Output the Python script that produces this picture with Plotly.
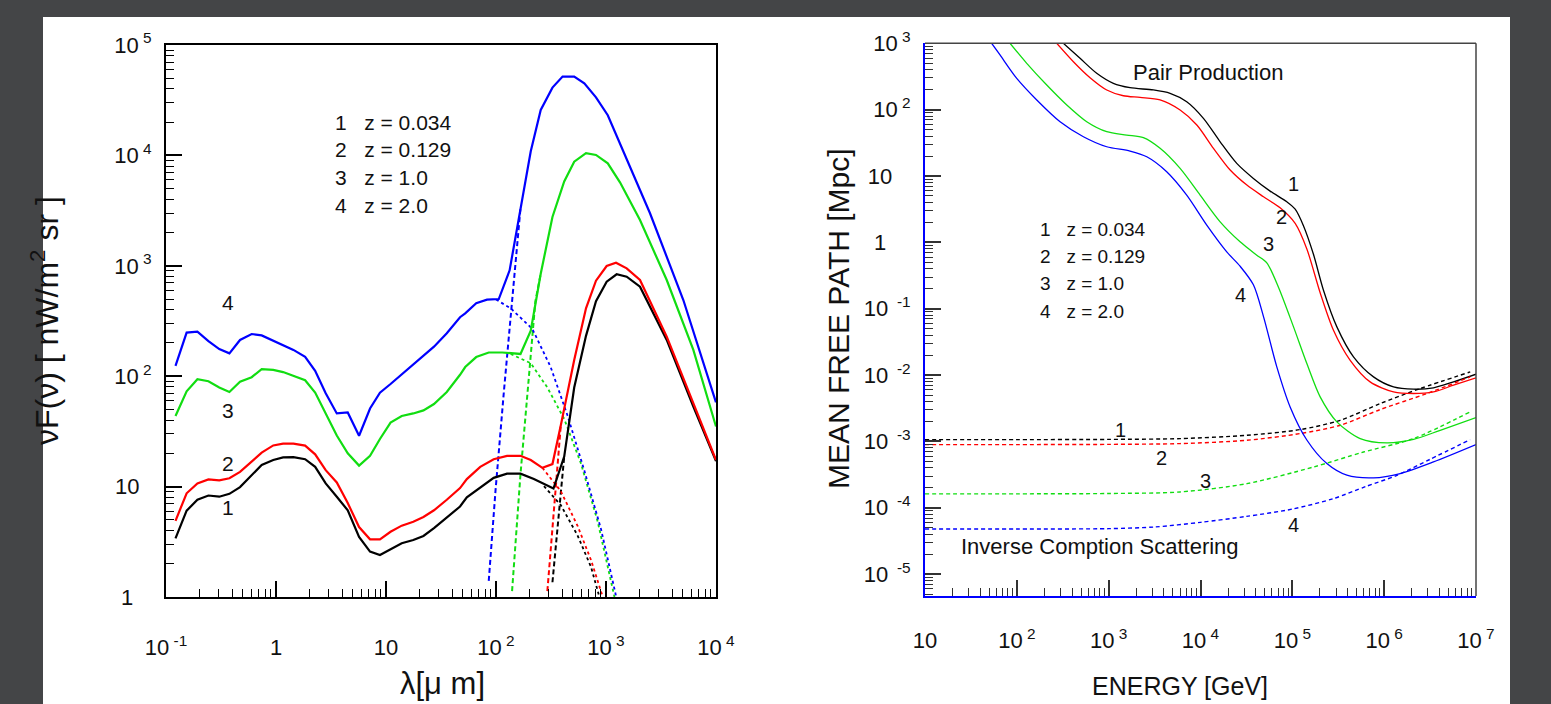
import plotly.graph_objects as go

# ---------------- left panel: EBL spectra (wavelength in micron, nuFnu in nW m^-2 sr^-1)
LAM_IR = [0.122, 0.154, 0.193, 0.243, 0.305, 0.377, 0.471, 0.601, 0.741, 0.944, 1.16, 1.44,
          1.84, 2.27, 2.83, 3.57, 4.49, 5.69, 7.16, 8.81, 11.0, 13.9, 17.7, 21.9, 27.3, 35.7, 47.1]

# total spectrum, z = 0.034
ir_z1 = [3.4, 6.05, 7.6, 8.3, 8.1, 8.6, 9.9, 12.7, 15.7, 17.4, 18.4, 18.5, 17.7, 15.1, 10.7,
         8.1, 6.1, 3.5, 2.58, 2.4, 2.7, 3.07, 3.28, 3.57, 4.2, 5.2, 6.6]
lam_far_z1 = [54.3, 71.9, 95.3, 126, 167, 221, 333, 417, 514, 658, 811, 1014, 1250, 1542,
              2037, 3565, 6223, 10000]
far_z1 = [8.0, 9.8, 12.0, 13.1, 13.1, 11.7, 9.6, 18.7, 79, 232, 477, 718, 838, 797, 647,
          213, 53, 17]

# total spectrum, z = 0.129
ir_z2 = [4.9, 8.7, 10.7, 11.6, 11.4, 11.9, 13.6, 16.8, 20.3, 23.6, 24.5, 24.5, 23.5, 19.6,
         14.1, 10.9, 7.1, 4.3, 3.33, 3.33, 3.9, 4.43, 4.8, 5.3, 6.1, 7.6, 9.7]
lam_far_z2 = [54.3, 71.9, 95.3, 126, 167, 207, 264, 326, 388, 514, 658, 811, 1014, 1233,
              1542, 2037, 3565, 6223, 10000]
far_z2 = [11.7, 15.1, 17.7, 19.0, 19.0, 17.4, 14.8, 16.0, 35.7, 140, 412, 733, 995, 1067,
          949, 743, 228, 57, 17.4]

# total spectrum, z = 1.0
ir_z3 = [43.6, 73, 94, 90, 79, 72, 89, 98, 116, 114, 109, 100, 92, 71, 46, 29, 20, 15.5,
         19, 27, 38, 43.6, 46, 49, 56, 72, 103]
lam_far_z3 = [52.5, 66.1, 85.9, 114, 167, 207, 255, 326, 417, 514, 658, 811, 1038, 1340,
              2037, 3565, 6223, 10000]
far_z3 = [121, 149, 164, 164, 159, 258, 847, 2770, 5800, 8770, 10500, 10100, 8470, 5700,
          2600, 743, 173, 35]

# total spectrum, z = 2.0
ir_z4 = [124, 248, 253, 208, 176, 161, 213, 241, 234, 210, 192, 173, 150, 112, 70, 46, 47,
         28.9, 51, 71, 85, 104, 126, 152, 185, 245, 342]
lam_far_z4 = [52.5, 66.1, 82.8, 106, 133, 167, 207, 255, 326, 403, 514, 635, 811, 1038,
              1294, 2512, 5047, 10000]
far_z4 = [371, 459, 493, 500, 910, 3320, 10900, 25800, 41100, 51800, 51800, 44900, 33600,
          23100, 13800, 2990, 490, 58]

# dust component continued past the junction (dotted)
dot_lam_z1 = [273, 388, 552, 731, 871]
dot_val_z1 = [10.1, 6.8, 3.6, 1.87, 1.0]
dot_lam_z2 = [264, 388, 552, 731, 935]
dot_val_z2 = [14.8, 9.1, 4.4, 2.16, 1.0]
dot_lam_z3 = [136, 207, 293, 417, 592, 841, 1194]
dot_val_z3 = [159, 131, 79, 41, 16.2, 4.8, 1.0]
dot_lam_z4 = [100, 136, 214, 314, 447, 635, 902, 1239]
dot_val_z4 = [495, 412, 268, 121, 44, 14, 4.1, 1.0]

# rising background component (dashed)
dash_lam_z1 = [326, 375, 417]
dash_val_z1 = [1.36, 6.4, 18.7]
dash_lam_z2 = [293, 337, 388]
dash_val_z2 = [1.13, 6.4, 35.7]
dash_lam_z3 = [140, 167, 199, 228, 255]
dash_val_z3 = [1.13, 13, 98, 477, 847]
dash_lam_z4 = [85.9, 98.9, 118, 140, 167]
dash_val_z4 = [1.4, 9.1, 73, 477, 3320]

# ---------------- right panel: mean free path (energy in GeV, path in Mpc)
pp_e_z1 = [321, 488, 741, 1125, 1710, 3069, 4667, 7079, 10765, 16370, 24830, 37670, 57280,
           87100, 107400, 132100, 169800, 218300, 305500, 463400, 765600, 1.265e6, 2.089e6,
           3.443e6, 5.689e6, 1e7]
pp_l_z1 = [1000, 594, 353, 249, 214, 198, 176, 131.5, 74.0, 32.8, 15.5, 9.20, 5.92, 4.08,
           3.16, 1.78, 0.66, 0.19, 0.0532, 0.0188, 0.00938, 0.00662, 0.00612, 0.00641,
           0.00789, 0.0103]
pp_e_z2 = [272, 413, 627, 953, 1445, 2198, 3631, 5998, 9120, 13840, 21040, 31990, 48530,
           73620, 107400, 143900, 200900, 280500, 426600, 703100, 1.265e6, 2.089e6, 3.443e6,
           5.689e6, 1e7]
pp_l_z2 = [1000, 528, 303, 198, 162, 153, 140, 98.6, 58.6, 26.1, 12.3, 7.29, 4.86, 3.32, 1.93,
           0.794, 0.174, 0.0474, 0.0167, 0.00789, 0.00557, 0.00527, 0.00557, 0.00703, 0.00906]
pp_e_z3 = [84.3, 128.2, 211.8, 349.9, 576.8, 952.6, 1574, 2388, 3631, 5998, 9908, 16370,
           26980, 41020, 52720, 70790, 102800, 143900, 200900, 305500, 548300, 1.069e6,
           2.089e6, 4.074e6, 1e7]
pp_l_z3 = [1000, 499, 235, 117.5, 65.8, 46.5, 41.4, 37.8, 26.1, 13.0, 5.15, 2.04, 1.02, 0.641,
           0.490, 0.209, 0.0537, 0.0149, 0.00469, 0.00197, 0.00110, 0.000948, 0.00107,
           0.00147, 0.00229]
pp_e_z4 = [53.2, 65.6, 99.8, 164.8, 295.8, 530.9, 952.6, 1710, 2600, 4285, 7079, 11700, 19320,
           26980, 37670, 48530, 67760, 94620, 143900, 237700, 392600, 765600, 1.496e6,
           3.443e6, 1e7]
pp_l_z4 = [1000, 667, 296, 140, 65.8, 39.1, 27.6, 23.8, 19.5, 11.6, 5.15, 1.82, 0.719, 0.437,
           0.229, 0.0759, 0.0133, 0.00331, 0.00105, 0.000463, 0.000309, 0.000282, 0.000328,
           0.000491, 0.000897]

ics_e_z1 = [10, 100, 1000, 6000, 32000, 121600, 331900, 905700, 2.466e6, 8.65e6]
ics_l_z1 = [0.001064, 0.001064, 0.001072, 0.001102, 0.001236, 0.001507, 0.002080, 0.003715,
            0.006252, 0.01114]
ics_e_z2 = [10, 100, 1000, 6000, 32000, 121600, 331900, 905700, 2.917e6, 8.65e6]
ics_l_z2 = [0.000895, 0.000895, 0.000902, 0.000927, 0.001040, 0.001312, 0.001750, 0.00302,
            0.00526, 0.00938]
ics_e_z3 = [10, 100, 1000, 6000, 32000, 169800, 595700, 2.089e6, 9.016e6]
ics_l_z3 = [0.000162, 0.000162, 0.000164, 0.000173, 0.000231, 0.000411, 0.000692, 0.001102,
            0.002877]
ics_e_z4 = [10, 100, 1000, 3162, 10000, 31620, 100000, 280500, 631000, 1.377e6, 3.162e6,
            8.65e6]
ics_l_z4 = [4.79e-5, 4.79e-5, 4.84e-5, 5.13e-5, 6.03e-5, 7.41e-5, 9.55e-5, 1.374e-4,
            2.09e-4, 3.08e-4, 5.37e-4, 1.064e-3]

REDSHIFT_LABELS = ["1\u00a0\u00a0\u00a0z = 0.034", "2\u00a0\u00a0\u00a0z = 0.129",
                   "3\u00a0\u00a0\u00a0z = 1.0", "4\u00a0\u00a0\u00a0z = 2.0"]
COLORS = ["#000000", "#ff0000", "#11dd11", "#0000ff"]

LEFT_YTICKS = [1, 10, 100, 1e3, 1e4, 1e5]
LEFT_YTEXT = ["1\u00a0\u00a0\u00a0", "10\u00a0\u00a0", "10<sup> 2</sup>", "10<sup> 3</sup>",
              "10<sup> 4</sup>", "10<sup> 5</sup>"]
LEFT_XTICKS = [0.1, 1, 10, 100, 1e3, 1e4]
LEFT_XTEXT = ["10<sup> -1</sup>", "1", "10", "10<sup> 2</sup>", "10<sup> 3</sup>", "10<sup> 4</sup>"]
RIGHT_XTICKS = [10, 100, 1e3, 1e4, 1e5, 1e6, 1e7]
RIGHT_XTEXT = ["10", "10<sup> 2</sup>", "10<sup> 3</sup>", "10<sup> 4</sup>", "10<sup> 5</sup>",
               "10<sup> 6</sup>", "10<sup> 7</sup>"]
RIGHT_YTICKS = [1e-5, 1e-4, 1e-3, 1e-2, 1e-1, 1, 10, 100, 1e3]
RIGHT_YTEXT = ["10<sup>  -5</sup>", "10<sup>  -4</sup>", "10<sup>  -3</sup>", "10<sup>  -2</sup>",
               "10<sup>  -1</sup>", "1\u00a0\u00a0\u00a0\u00a0", "10\u00a0\u00a0\u00a0",
               "10<sup> 2</sup>", "10<sup> 3</sup>"]

W, H = 1551, 704
FONT = "Liberation Sans, Arial, Helvetica, sans-serif"


def px(x):
    return x / W


def py(y):
    return 1 - y / H


fig = go.Figure()

ir_sets = [(ir_z1, lam_far_z1, far_z1), (ir_z2, lam_far_z2, far_z2),
           (ir_z3, lam_far_z3, far_z3), (ir_z4, lam_far_z4, far_z4)]
dot_sets = [(dot_lam_z1, dot_val_z1), (dot_lam_z2, dot_val_z2),
            (dot_lam_z3, dot_val_z3), (dot_lam_z4, dot_val_z4)]
dash_sets = [(dash_lam_z1, dash_val_z1), (dash_lam_z2, dash_val_z2),
             (dash_lam_z3, dash_val_z3), (dash_lam_z4, dash_val_z4)]

for i in range(4):
    c = COLORS[i]
    lx, ly = dot_sets[i]
    fig.add_trace(go.Scatter(x=lx, y=ly, mode="lines", xaxis="x", yaxis="y",
                             line=dict(color=c, width=1.8, dash="dot")))
    lx, ly = dash_sets[i]
    fig.add_trace(go.Scatter(x=lx, y=ly, mode="lines", xaxis="x", yaxis="y",
                             line=dict(color=c, width=2, dash="5px,3px")))
for i in range(4):
    ir, lf, vf = ir_sets[i]
    fig.add_trace(go.Scatter(x=LAM_IR + lf, y=ir + vf, mode="lines", xaxis="x", yaxis="y",
                             line=dict(color=COLORS[i], width=2.2)))

pp_sets = [(pp_e_z1, pp_l_z1), (pp_e_z2, pp_l_z2), (pp_e_z3, pp_l_z3), (pp_e_z4, pp_l_z4)]
ics_sets = [(ics_e_z1, ics_l_z1), (ics_e_z2, ics_l_z2), (ics_e_z3, ics_l_z3),
            (ics_e_z4, ics_l_z4)]
for i in range(4):
    e, l = ics_sets[i]
    fig.add_trace(go.Scatter(x=e, y=l, mode="lines", xaxis="x2", yaxis="y2",
                             line=dict(color=COLORS[i], width=1.4, dash="4px,3px",
                                       shape="spline", smoothing=0.8)))
    e, l = pp_sets[i]
    fig.add_trace(go.Scatter(x=e, y=l, mode="lines", xaxis="x2", yaxis="y2",
                             line=dict(color=COLORS[i], width=1.3, shape="spline",
                                       smoothing=0.8)))


def minor_vals(lo, hi):
    vals = []
    for d in range(lo, hi):
        for k in range(2, 10):
            vals.append(k * 10.0 ** d)
    return vals


def log_axis(rng, dom, anchor, tickvals, ticktext, minors, linecolor, tickcolor,
             mirror, standoff):
    return dict(type="log", range=rng, domain=dom, anchor=anchor, automargin=False,
                showline=True, linecolor=linecolor, linewidth=2, mirror=mirror,
                ticks="inside", ticklen=16, tickwidth=1.5, tickcolor=tickcolor,
                tickmode="array", tickvals=tickvals, ticktext=ticktext,
                tickfont=dict(family=FONT, size=22, color="#111"),
                ticklabelstandoff=standoff,
                showgrid=False, zeroline=False,
                minor=dict(tickmode="array", tickvals=minors, ticks="inside",
                           ticklen=8, tickwidth=1.3, tickcolor=tickcolor, showgrid=False))


fig.update_layout(
    width=W, height=H, autosize=False, margin=dict(l=0, r=0, t=0, b=0, pad=0, autoexpand=False),
    paper_bgcolor="#444547", plot_bgcolor="white", showlegend=False,
    xaxis=log_axis([-1, 4], [px(166), px(716)], "y", LEFT_XTICKS, LEFT_XTEXT,
                   minor_vals(-1, 4), "#000", "#000", True, 30),
    yaxis=log_axis([0, 5], [py(597), py(45)], "x", LEFT_YTICKS, LEFT_YTEXT,
                   minor_vals(0, 5), "#000", "#000", True, 8),
    xaxis2=log_axis([1, 7], [px(925), px(1476)], "y2", RIGHT_XTICKS, RIGHT_XTEXT,
                    minor_vals(1, 7), "#0000ff", "#333", False, 24),
    yaxis2=log_axis([-5.33, 3], [py(596), py(43.3)], "x2", RIGHT_YTICKS, RIGHT_YTEXT,
                    minor_vals(-6, 3), "#0000ff", "#333", False, 8),
)

shapes = [
    dict(type="rect", xref="paper", yref="paper", x0=px(43), x1=px(1510), y0=0, y1=py(17),
         fillcolor="white", line=dict(width=0), layer="below"),
    dict(type="line", xref="x2 domain", yref="y2 domain", x0=0, x1=1, y0=1, y1=1,
         line=dict(color="#444", width=1.5)),
    dict(type="line", xref="x2 domain", yref="y2 domain", x0=1, x1=1, y0=0, y1=1,
         line=dict(color="#444", width=1.5)),
]
fig.update_layout(shapes=shapes)

ann = []


def text(x, y, s, size, anchor="center", angle=0):
    ann.append(dict(xref="paper", yref="paper", x=px(x), y=py(y), text=s, showarrow=False,
                    xanchor=anchor, yanchor="middle", textangle=angle,
                    font=dict(family=FONT, size=size, color="#111")))


# left panel text
for k, s in enumerate(REDSHIFT_LABELS):
    text(333, 122 + 27.7 * k, s, 21, "left")
for s, (x, y) in zip(["4", "3", "2", "1"], [(228, 302), (228, 410), (228, 463), (228, 507)]):
    text(x, y, s, 21)
text(45, 321, "\u03bdF(\u03bd) [ nW/m<sup>2</sup> sr ]", 32, angle=-90)
text(442, 683, "\u03bb[\u03bc m]", 31)

# right panel text
text(1208, 72, "Pair Production", 22)
text(1100, 546, "Inverse Comption Scattering", 22)
for k, s in enumerate(REDSHIFT_LABELS):
    text(1038, 230 + 27 * k, s, 19, "left")
for s, (x, y) in zip(["1", "2", "3", "4"], [(1293, 184), (1281, 217), (1268, 244), (1240, 295)]):
    text(x, y, s, 20)
for s, (x, y) in zip(["1", "2", "3", "4"], [(1120, 430), (1161, 458), (1205, 481), (1293, 525)]):
    text(x, y, s, 20)
text(838, 319, "MEAN FREE PATH [Mpc]", 30, angle=-90)
text(1180, 686, "ENERGY [GeV]", 25)

fig.update_layout(annotations=ann)

fig.write_html("out.html", config={"responsive": False})
